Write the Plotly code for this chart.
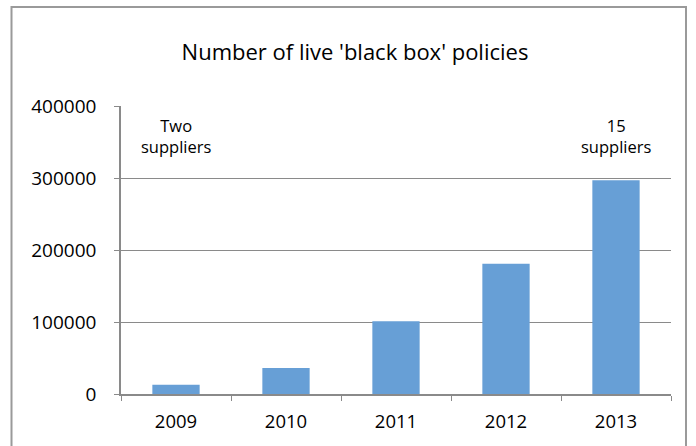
import plotly.graph_objects as go

years = ["2009", "2010", "2011", "2012", "2013"]
policies = [13000, 36000, 101000, 181000, 297000]
y_ticks = [0, 100000, 200000, 300000, 400000]
title_text = "Number of live 'black box' policies"
notes = [("2009", "Two<br>suppliers"), ("2013", "15<br>suppliers")]

W, H = 696, 446
L, R, T, B = 121, 25, 106, 52
pw, ph = W - L - R, H - T - B

def px_x(p):
    return (p - L) / pw

def px_y(p):
    return (H - B - p) / ph

FONT = "Open Sans"
fig = go.Figure()
fig.add_trace(go.Bar(x=years, y=policies, marker=dict(color="#679fd6", line=dict(width=0)),
                     width=0.43))

for cat, txt in notes:
    fig.add_annotation(x=years.index(cat), y=px_y(112), xref="x", yref="paper", text=txt,
                       showarrow=False, yanchor="top", align="center",
                       font=dict(family=FONT, size=16.5, color="#000"))

fig.add_shape(type="rect", xref="paper", yref="paper",
              x0=px_x(11.5), x1=px_x(686), y0=px_y(480), y1=px_y(7),
              line=dict(color="#9a9a9a", width=2), layer="below")

fig.update_layout(
    width=W, height=H,
    margin=dict(l=L, r=R, t=T, b=B),
    paper_bgcolor="white", plot_bgcolor="white",
    showlegend=False,
    title=dict(text=title_text, x=px_x(355), xanchor="center", xref="paper",
               y=1 - 52 / H, yanchor="middle",
               font=dict(family=FONT, size=22, color="#000")),
    font=dict(family=FONT, color="#000"),
)
fig.update_xaxes(type="category", categoryorder="array", categoryarray=years,
                 range=[-0.5, len(years) - 0.5],
                 showline=True, linecolor="#8a8a8a", linewidth=1.5,
                 ticks="outside", tickson="boundaries", ticklen=5, tickcolor="#8a8a8a",
                 ticklabelstandoff=10,
                 tickfont=dict(family=FONT, size=18.5, color="#000"), showgrid=False)
fig.update_yaxes(range=[0, 400000], tickvals=y_ticks, tickformat="d",
                 showline=True, linecolor="#8a8a8a", linewidth=1.5,
                 ticks="outside", ticklen=5, tickcolor="#8a8a8a",
                 showgrid=True, gridcolor="#8a8a8a", gridwidth=1.2,
                 zeroline=False, ticklabelstandoff=14,
                 tickfont=dict(family=FONT, size=19, color="#000"))

fig.write_html("out.html", config={"displayModeBar": False},
               post_script="document.body.style.margin='0';")
